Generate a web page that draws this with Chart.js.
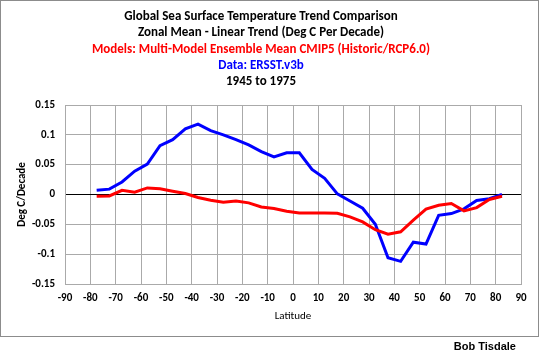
<!DOCTYPE html>
<html>
<head>
<meta charset="utf-8">
<script src="https://cdn.jsdelivr.net/npm/chart.js@4"></script>
<style>
  body { margin: 0; background: #fff; }
  #wrap { position: relative; width: 540px; height: 359px; overflow: hidden; }
  #frame { position: absolute; left: 0; top: 0; width: 539px; height: 337px; box-sizing: border-box; border: 1px solid #8c8c8c; }
  #titles { position: absolute; left: 0; top: 8px; width: 522px; text-align: center;
            font-family: Carlito, Lato, "Liberation Sans", sans-serif; font-weight: bold; font-size: 13px; line-height: 16.3px; }
  #credit { position: absolute; right: 24px; top: 340px; font-family: "Liberation Sans", Arial, sans-serif; font-weight: bold; font-size: 11px; }
  canvas { position: absolute; left: 0; top: 0; }
</style>
</head>
<body>
<div id="wrap">
  <div id="frame"></div>
  <canvas id="sstChart" width="540" height="359"></canvas>
  <div id="titles">
    <div style="color:#000">Global Sea Surface Temperature Trend Comparison</div>
    <div style="color:#000">Zonal Mean - Linear Trend (Deg C Per Decade)</div>
    <div style="color:#ff0000">Models: Multi-Model Ensemble Mean CMIP5 (Historic/RCP6.0)</div>
    <div style="color:#0000ff">Data: ERSST.v3b</div>
    <div style="color:#000">1945 to 1975</div>
  </div>
  <div id="credit">Bob Tisdale</div>
</div>
<script>
// latitude band centres (5 deg bands)
const lats = [-77.5, -72.5, -67.5, -62.5, -57.5, -52.5, -47.5, -42.5, -37.5, -32.5, -27.5,
              -22.5, -17.5, -12.5, -7.5, -2.5, 2.5, 7.5, 12.5, 17.5, 22.5, 27.5, 32.5,
              37.5, 42.5, 47.5, 52.5, 57.5, 62.5, 67.5, 72.5, 77.5, 82.5];

// ERSST.v3b trend, deg C per decade
const ersst = [0.007, 0.009, 0.021, 0.039, 0.051, 0.082, 0.092, 0.110, 0.118, 0.107, 0.100,
               0.092, 0.083, 0.072, 0.063, 0.070, 0.070, 0.042, 0.027, 0.001, -0.011, -0.023, -0.050,
               -0.106, -0.112, -0.080, -0.083, -0.035, -0.032, -0.024, -0.010, -0.007, 0.000];

// CMIP5 multi-model ensemble mean trend
const cmip5 = [-0.003, -0.0025, 0.007, 0.004, 0.011, 0.0095, 0.0055, 0.0017, -0.005, -0.0095, -0.013,
               -0.011, -0.014, -0.021, -0.0235, -0.028, -0.031, -0.031, -0.031, -0.0315, -0.0375, -0.046, -0.059,
               -0.0665, -0.0625, -0.043, -0.0246, -0.018, -0.015, -0.0275, -0.022, -0.0084, -0.003];

const xTicks = [-90, -80, -70, -60, -50, -40, -30, -20, -10, 0, 10, 20, 30, 40, 50, 60, 70, 80, 90];
const yTicks = [-0.15, -0.1, -0.05, 0, 0.05, 0.1, 0.15];

const pts = arr => arr.map((v, i) => ({ x: lats[i], y: v }));
const tickFont = { family: 'Carlito, Lato, "Liberation Sans", sans-serif', size: 11, weight: 'bold' };

const ctx = document.getElementById('sstChart').getContext('2d');
new Chart(ctx, {
    type: 'line',
    data: {
        datasets: [{
            label: 'CMIP5',
            data: pts(cmip5),
            borderColor: '#ff0000',
            borderWidth: 3,
            pointRadius: 0,
            tension: 0,
            fill: false
        }, {
            label: 'ERSST.v3b',
            data: pts(ersst),
            borderColor: '#0000ff',
            borderWidth: 3,
            pointRadius: 0,
            tension: 0,
            fill: false
        }]
    },
    options: {
        responsive: false,
        animation: false,
        devicePixelRatio: 1,
        layout: { padding: { left: 0, right: 19, top: 105, bottom: 32 } },
        plugins: {
            legend: { display: false },
            tooltip: { enabled: false }
        },
        scales: {
            x: {
                type: 'linear',
                min: -90,
                max: 90,
                afterFit: s => { s.height = 43; },
                afterBuildTicks: s => { s.ticks = xTicks.map(v => ({ value: v })); },
                ticks: { color: '#000', font: tickFont, padding: 8, maxRotation: 0 },
                grid: { color: '#aaaaaa', lineWidth: 1, drawTicks: false },
                border: { color: '#aaaaaa' },
                title: {
                    display: true,
                    text: 'Latitude',
                    color: '#000',
                    font: { family: tickFont.family, size: 11 },
                    padding: { top: 4 }
                }
            },
            y: {
                min: -0.15,
                max: 0.15,
                afterFit: s => { s.width = 65; },
                afterBuildTicks: s => { s.ticks = yTicks.map(v => ({ value: v })); },
                ticks: {
                    color: '#000',
                    font: tickFont,
                    padding: 10,
                    callback: v => String(Number(v.toFixed(2)))
                },
                grid: {
                    color: c => (c.tick && Math.abs(c.tick.value) < 1e-9) ? '#000' : '#aaaaaa',
                    lineWidth: 1,
                    drawTicks: false
                },
                border: { color: '#aaaaaa' },
                title: {
                    display: true,
                    text: 'Deg C/Decade',
                    color: '#000',
                    font: tickFont,
                    padding: { top: 16, bottom: 0 }
                }
            }
        }
    }
});
</script>
</body>
</html>
